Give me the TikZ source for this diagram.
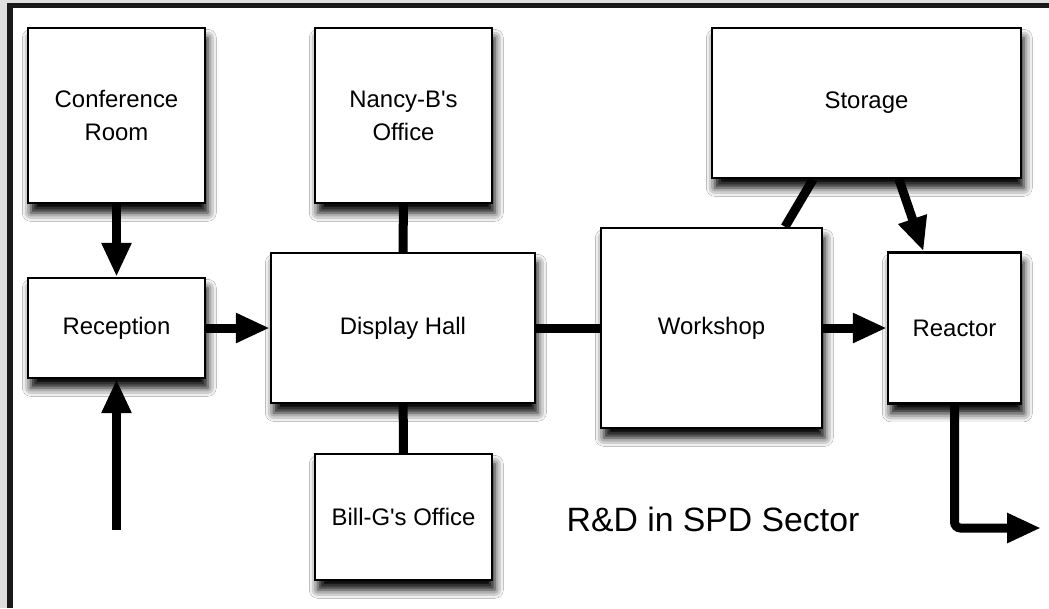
\documentclass[tikz,border=0pt]{standalone}
\usepackage{fontspec}
\setmainfont{Liberation Sans}
\usetikzlibrary{arrows.meta,shadows.blur}

\tikzset{
  room/.style={draw, line width=0.06cm, fill=white, align=center,
    font=\fontsize{17}{23.5}\selectfont,
    blur shadow={shadow xshift=2pt, shadow yshift=-7pt, shadow blur radius=6pt, shadow opacity=100}},
  link/.style={line width=0.225cm},
  flow/.style={link, -{Triangle[length=0.85cm, width=0.7cm]}}
}

\begin{document}
\begin{tikzpicture}[x=0.025cm, y=-0.025cm]
    % frame
    \fill[black!13] (0,0) rectangle (1049,608);
    \fill[black!90] (7,3) rectangle (1049,608);
    \fill[white] (13,8) rectangle (1049,608);
    \useasboundingbox (0,0) rectangle (1049,608);
    % rooms
    \foreach \Pos/\Name/\W/\H/\Text in {(116.5,115.5)/conf/4.425cm/4.375cm/{Conference\\Room},
        (403.5,115.5)/nancy/4.425cm/4.375cm/{Nancy-B\textquotesingle s\\Office},
        (866.5,103)/storage/7.725cm/3.75cm/Storage,
        (116.5,328)/recep/4.425cm/2.5cm/Reception,
        (403,328)/hall/6.6cm/3.75cm/Display Hall,
        (711.5,328)/workshop/5.525cm/5cm/Workshop,
        (954.5,328)/reactor/3.325cm/3.775cm/Reactor,
        (403.5,517)/bill/4.425cm/3.15cm/Bill-G\textquotesingle s Office}
    \node[room, minimum width=\W, minimum height=\H] (\Name) at \Pos {\Text};
    % label
    \node[font=\fontsize{24}{28}\selectfont] (title) at (713,519) {R\&D in SPD Sector};
    % ways in and out
    \coordinate (entry) at (116.5,530);
    \coordinate (exit) at (1041,528);
    % connections
    \draw[flow] (conf) -- (recep);
    \draw[flow] (entry) -- (recep);
    \draw[flow] (recep) -- (hall);
    \draw[link] (nancy) -- (hall);
    \draw[link] (hall) -- (bill);
    \draw[link] (hall) -- (workshop);
    \draw[flow] (workshop) -- (reactor);
    \draw[link] (storage.-125.5) -- (workshop.54.8);
    \draw[flow] (storage.-67.9) -- (reactor.112.6);
    \draw[flow, rounded corners=0.15cm] (reactor) |- (exit);
\end{tikzpicture}
\end{document}
